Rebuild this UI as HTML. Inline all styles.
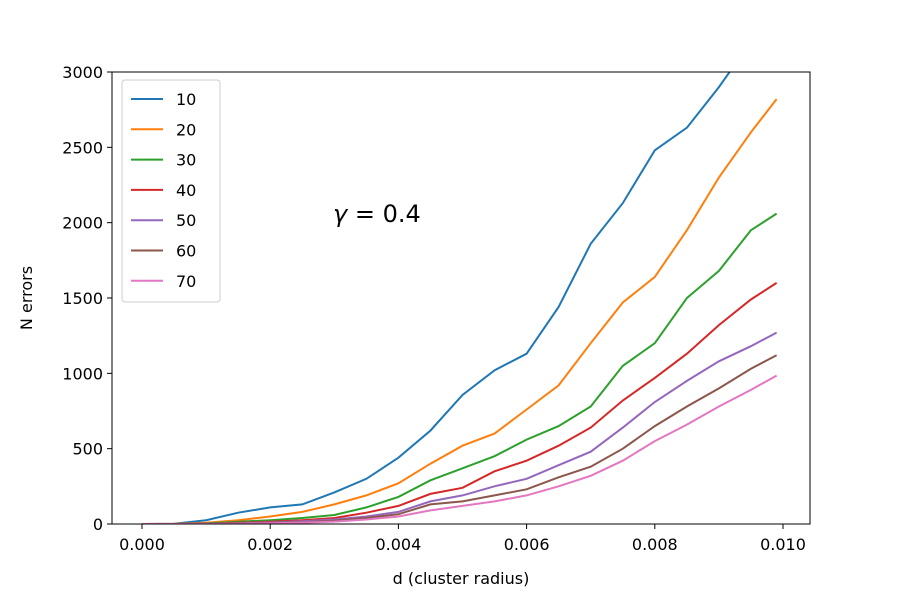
<!DOCTYPE html>
<html><head><meta charset="utf-8"><style>
body{margin:0;background:#fff}
svg text{font-family:"DejaVu Sans","Liberation Sans",sans-serif;fill:#000}
</style></head><body>
<svg id="chart" width="900" height="600" xmlns="http://www.w3.org/2000/svg">
<defs><clipPath id="clip"><rect x="112" y="72" width="698" height="452"/></clipPath></defs>
<g id="lines" clip-path="url(#clip)"></g>
<rect x="112" y="72" width="698" height="452" fill="none" stroke="#000" stroke-width="1"/>
<g id="axes"></g>
<text x="333" y="222" font-size="24"><tspan font-style="italic">γ</tspan> = 0.4</text>
<text x="461" y="584" font-size="16" text-anchor="middle">d (cluster radius)</text>
<text transform="translate(32,298) rotate(-90)" font-size="16" text-anchor="middle">N errors</text>
<g id="legend"></g>
</svg>
<script>
const xs = [0,0.0005,0.001,0.0015,0.002,0.0025,0.003,0.0035,0.004,0.0045,0.005,0.0055,0.006,0.0065,0.007,0.0075,0.008,0.0085,0.009,0.0095,0.0099];
const labels = ["10","20","30","40","50","60","70"];
const colors = ["#1f77b4","#ff7f0e","#2ca02c","#d62728","#9467bd","#8c564b","#e377c2"];
const s10 = [0,2,25,75,110,130,210,300,440,620,856,1020,1130,1440,1860,2130,2480,2630,2900,3200,3400];
const s20 = [0,1,8,25,50,80,130,190,270,400,520,600,760,920,1200,1470,1640,1950,2300,2600,2820];
const s30 = [0,0,4,15,25,40,60,110,180,290,370,450,560,650,780,1050,1200,1500,1680,1950,2060];
const s40 = [0,0,2,8,15,25,40,75,120,200,240,350,420,520,640,820,970,1130,1320,1490,1600];
const s50 = [0,0,1,5,10,18,30,50,80,150,190,250,300,390,480,640,810,950,1080,1180,1270];
const s60 = [0,0,1,3,7,12,22,40,65,130,150,190,230,310,380,500,650,780,900,1030,1120];
const s70 = [0,0,0,2,5,9,16,30,50,90,120,150,190,250,320,420,550,660,780,890,985];
const series = [s10,s20,s30,s40,s50,s60,s70];
const xTicks = [0,0.002,0.004,0.006,0.008,0.010];
const yTicks = [0,500,1000,1500,2000,2500,3000];
const X = v => 142 + v*64100;
const Y = v => 524 - v*0.15067;
const NS="http://www.w3.org/2000/svg";
const mk=(t,a,p)=>{const e=document.createElementNS(NS,t);for(const k in a)e.setAttribute(k,a[k]);p.appendChild(e);return e;};
const lines=document.getElementById('lines');
series.forEach((s,i)=>{
  const p=mk('path',{d:s.map((v,j)=>(j?'L':'M')+X(xs[j]).toFixed(1)+','+Y(v).toFixed(1)).join(''),fill:'none',stroke:colors[i],'stroke-width':2},lines);
  
  
});
const axes=document.getElementById('axes');
xTicks.forEach(t=>{
  const l=mk('line',{x1:X(t),x2:X(t),y1:524,y2:529,stroke:'#000'},axes);
  
  
  const tx=mk('text',{x:X(t),y:550,'font-size':16,'text-anchor':'middle'},axes);
  tx.textContent=t.toFixed(3);
  
  
});
yTicks.forEach(t=>{
  const l=mk('line',{x1:107,x2:112,y1:Y(t),y2:Y(t),stroke:'#000'},axes);
  
  
  const tx=mk('text',{x:103,y:Y(t)+6,'font-size':16,'text-anchor':'end'},axes);
  tx.textContent=t;
  
  
});
const lg=document.getElementById('legend');
mk('rect',{x:122,y:80,width:98,height:222,rx:3,fill:'#fff','fill-opacity':0.8,stroke:'#ccc'},lg);
labels.forEach((lb,i)=>{
  const y=99+i*30.3;
  const l=mk('line',{x1:131,x2:163,y1:y,y2:y,stroke:colors[i],'stroke-width':2},lg);
  
  
  const t=mk('text',{x:176,y:y+6,'font-size':16},lg);
  t.textContent=lb;
  
  
});
</script>
</body></html>
